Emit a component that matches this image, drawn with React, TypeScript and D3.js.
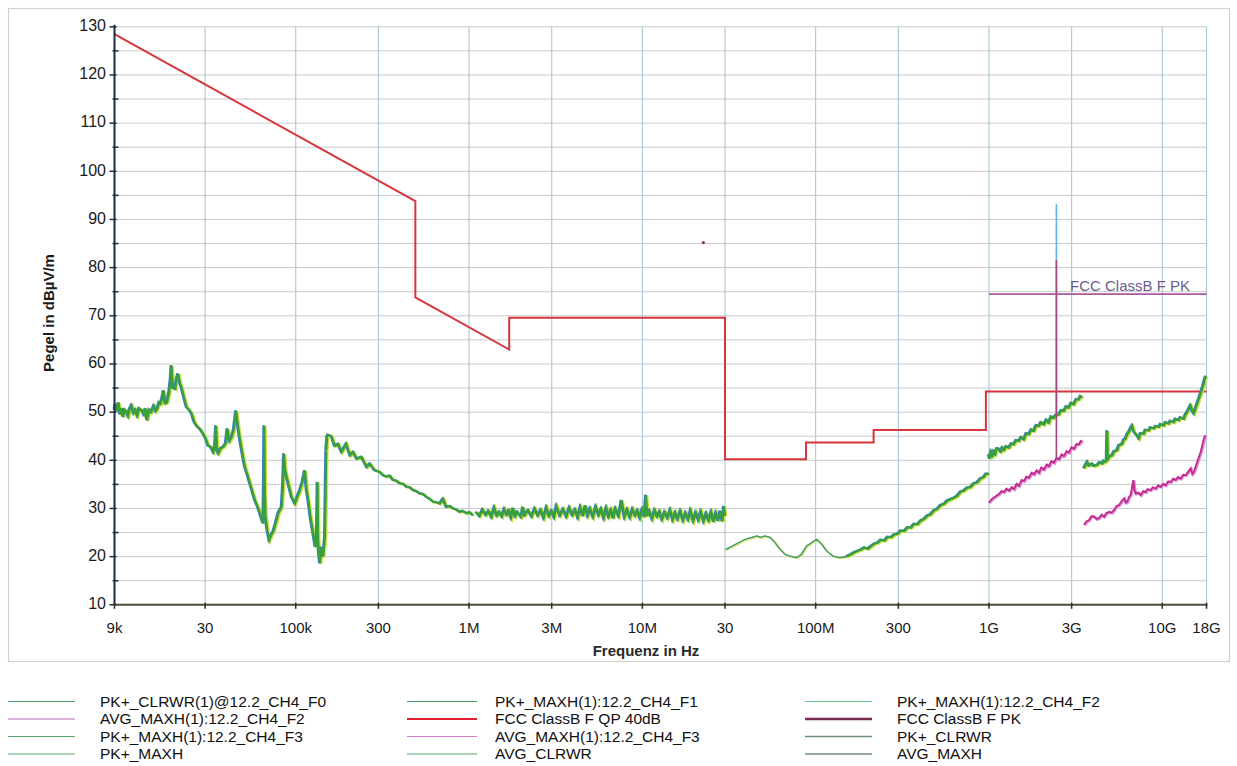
import React from "react";
import * as d3 from "d3";

type P = [number, number];

// ---------- axis ticks ----------
const yTickValues = [10, 20, 30, 40, 50, 60, 70, 80, 90, 100, 110, 120, 130];
const yGridValues = [15, 20, 25, 30, 35, 40, 45, 50, 55, 60, 65, 70, 75, 80, 85, 90, 95, 100, 105, 110, 115, 120, 125, 130];
const yMinorTicks = [15, 25, 35, 45, 55, 65, 75, 85, 95, 105, 115, 125];
const xTickFreqs = [9e3, 3e4, 1e5, 3e5, 1e6, 3e6, 1e7, 3e7, 1e8, 3e8, 1e9, 3e9, 1e10, 1.8e10];
const xTickLabels = ["9k", "30", "100k", "300", "1M", "3M", "10M", "30", "100M", "300", "1G", "3G", "10G", "18G"];

// ---------- limit lines ----------
const fccQP: P[] = [
  [9e3, 128.5], [490e3, 93.8], [490e3, 73.8], [1.705e6, 63.0], [1.705e6, 69.6], [30e6, 69.6],
  [30e6, 40.2], [88e6, 40.2], [88e6, 43.7], [216e6, 43.7], [216e6, 46.3], [960e6, 46.3], [960e6, 54.3], [18e9, 54.3],
];
const fccPK: P[] = [[1e9, 74.5], [18e9, 74.5]];

// ---------- measured traces ----------
// F0: 9 kHz - 150 kHz (kHz, dBµV/m)
const traceF0_kHz: P[] = [
  [9.0, 50.5], [9.1, 51.7], [9.3, 50.2], [9.5, 52], [9.7, 49.5], [9.9, 50.8], [10.1, 49], [10.3, 50.5], [10.6, 50], [10.8, 49.2],
  [11.0, 50.6], [11.3, 51.4], [11.6, 49.8], [11.9, 50.5], [12.2, 49.3], [12.5, 50.8], [13.0, 50.3], [13.3, 49.5], [13.6, 50.8], [13.9, 48.3],
  [14.3, 50.5], [14.7, 50], [15.2, 51.3], [15.6, 50.2], [15.9, 50.7], [16.3, 52], [16.6, 51.7], [17.0, 53], [17.3, 54.5], [17.7, 51.8],
  [18.1, 52], [18.6, 54], [19.0, 57], [19.2, 59.7], [19.6, 55], [20.2, 54.8], [20.6, 57], [21.0, 58], [21.5, 56], [22.0, 55],
  [22.7, 53], [23.5, 51], [24.3, 50.5], [25.1, 49.7], [26.0, 48], [26.8, 47.2], [28.0, 46.5], [29.3, 45.5], [30.3, 44.5], [31.3, 43],
  [32.4, 42.8], [33.5, 41.7], [34.2, 43], [34.7, 47.2], [35.2, 42], [35.8, 41.4], [37.0, 42.5], [38.3, 42.8], [39.5, 43.5], [40.4, 46.6],
  [41.5, 44], [42.8, 44.8], [44.0, 46.5], [45.3, 50.3], [46.5, 47], [47.8, 44.1], [49.5, 41], [51.0, 38.6], [52.7, 37], [54.5, 35.2],
  [56.3, 33.5], [58.2, 31.7], [60.2, 30.5], [62.2, 29], [64.0, 27.5], [65.0, 26.9], [65.5, 35], [65.9, 47.2], [66.4, 33], [67.0, 28.3],
  [68.6, 25.5], [70.4, 23.4], [72.3, 24.5], [74.3, 25.2], [76.8, 27], [79.4, 29], [83.0, 30.3], [84.5, 35], [85.6, 41.4], [87.0, 38],
  [88.7, 36.6], [91.7, 34.5], [94.8, 32.4], [99.1, 31], [102.5, 32.5], [105.9, 33.8], [109.5, 35.5], [113.1, 37.9], [115.5, 34], [118.2, 31.7],
  [122, 28], [126.3, 24.8], [130, 22], [132.5, 25], [133.8, 35.5], [134.5, 24], [136, 21], [138, 18.6], [141.1, 22], [144, 20],
  [147.5, 24.1], [149, 35], [150, 42],
];

// F1: 150 kHz - 1 MHz (kHz)
const traceF1a_kHz: P[] = [
  [150, 42], [152, 45], [154, 45.3], [161, 45], [168, 43], [176, 43.4], [184, 41.7], [196, 43.4], [206, 41], [215, 41.7],
  [225, 40.3], [240, 40.7], [257, 38.6], [268, 39.3], [286, 37.9], [306, 37.6], [320, 36.9], [334, 36.6], [350, 36.8], [365, 35.9],
  [380, 35.8], [399, 35.2], [418, 35.1], [436, 34.5], [456, 34.4], [476, 33.8], [498, 33.6], [520, 33.1], [545, 33.0], [568, 32.4],
  [595, 32.0], [621, 31.4], [650, 31.3], [678, 31], [709, 32], [741, 30.3], [775, 30.5], [810, 30], [846, 29.8], [884, 29.3],
  [925, 29.5], [966, 29], [1010, 29.2], [1055, 28.6],
];
// F1: 1 MHz - 30 MHz (MHz)
const traceF1b_MHz: P[] = [
  [1.1, 29.3], [1.15, 28.4], [1.2, 29.8], [1.25, 28.6], [1.3, 29.5], [1.35, 28.2], [1.4, 30.2], [1.45, 28.5], [1.5, 29.3], [1.55, 28.3],
  [1.6, 29.9], [1.65, 28.7], [1.7, 29.6], [1.75, 28.1], [1.8, 30.1], [1.85, 28.4], [1.9, 29.3], [2.0, 28.2], [2.05, 30.3], [2.1, 28.6],
  [2.2, 29.6], [2.3, 28.3], [2.4, 30.0], [2.5, 28.5], [2.6, 29.7], [2.7, 28.0], [2.8, 30.2], [2.9, 28.4], [3.0, 29.5], [3.1, 28.2],
  [3.2, 30.5], [3.35, 28.5], [3.5, 29.9], [3.65, 28.3], [3.8, 30.2], [3.95, 28.6], [4.1, 29.8], [4.25, 28.1], [4.4, 30.3], [4.55, 28.4],
  [4.7, 30.6], [4.85, 28.5], [5.0, 30.0], [5.2, 28.2], [5.4, 30.4], [5.6, 28.6], [5.8, 29.9], [6.0, 28.0], [6.2, 30.1], [6.4, 28.3],
  [6.6, 29.7], [6.8, 27.9], [7.0, 30.0], [7.3, 28.4], [7.6, 31.7], [7.9, 28.2], [8.2, 29.8], [8.5, 28.1], [8.8, 29.9], [9.1, 28.5],
  [9.4, 29.6], [9.7, 28.0], [10.0, 29.8], [10.3, 28.2], [10.5, 32.8], [10.7, 28.4], [11.0, 29.5], [11.4, 27.8], [11.8, 29.7], [12.2, 28.3],
  [12.6, 29.4], [13.0, 27.7], [13.5, 29.3], [14.0, 28.0], [14.5, 29.7], [15.0, 27.6], [15.5, 29.2], [16.0, 27.8], [16.6, 29.5], [17.2, 27.5],
  [17.8, 29.1], [18.4, 27.7], [19.0, 29.6], [19.7, 27.4], [20.4, 29.2], [21.1, 27.6], [21.8, 29.4], [22.6, 27.3], [23.4, 29.0], [24.2, 27.5],
  [25.0, 29.3], [25.8, 27.2], [26.6, 29.1], [27.4, 27.4], [28.2, 29.5], [29.0, 27.3], [29.6, 30.5], [30.0, 28.5],
];

// F2: 30 MHz - 150 MHz (MHz), smooth
const traceF2a_MHz: P[] = [
  [30.3, 21.5], [33.1, 22.2], [36, 22.9], [39.3, 23.6], [43, 24], [45.9, 24.3], [48, 24], [51.1, 24.3], [54.6, 24], [58.4, 22.9],
  [62.4, 21.5], [66.6, 20.5], [71.2, 20.1], [77.7, 19.8], [83, 20.5], [88.7, 22.2], [94.9, 22.9], [101.4, 23.6], [108.4, 22.6], [115.8, 21.2],
  [126.5, 20.1], [137.9, 19.8], [150.6, 20],
];
// F2: 150 MHz - 1 GHz (MHz), noisy
const traceF2b_MHz: P[] = [
  [150.6, 20], [160.9, 20.5], [168, 20.9], [175.8, 21.2], [184, 21.5], [191.9, 21.9], [200, 21.6], [209.6, 22.2],
  [219, 22.7], [228.9, 22.9], [239, 23.5], [249.9, 23.3], [261, 24.1], [272.9, 24], [285, 24.6], [297.4, 24.7], [311, 25.4], [324.9, 25.3],
  [340, 26.1], [354.9, 26], [371, 26.8], [387.6, 26.7], [405, 27.5], [423.3, 27.8], [442, 28.5], [462.2, 28.8], [483, 29.6], [504.8, 29.9],
  [527, 30.7], [551.3, 30.9], [576, 31.6], [601.9, 31.9], [629, 32.2], [657.3, 32.6], [687, 33.5], [717.8, 33.7], [750, 34.3], [783.8, 34.4],
  [820, 35.2], [855.9, 35.4], [895, 36.2], [934.8, 36.5], [965, 37.2], [1000, 37.2],
];

// F3 peak: 1 GHz - 3.5 GHz (GHz)
const traceF3pkA_GHz: P[] = [
  [1.0, 41.2], [1.01, 40.3], [1.03, 41.8], [1.05, 41], [1.069, 41.9], [1.09, 41.3], [1.115, 42.5], [1.142, 42.4], [1.17, 41.8], [1.195, 42.6],
  [1.22, 42.1], [1.26, 42.9], [1.304, 42.6], [1.35, 43.5], [1.394, 43.3], [1.44, 44.2], [1.489, 44], [1.54, 44.8], [1.591, 44.3], [1.645, 45.6],
  [1.7, 45.4], [1.76, 46.4], [1.817, 46.1], [1.88, 47.3], [1.942, 47.1], [2.0, 47.9], [2.075, 47.4], [2.15, 48.4], [2.218, 47.8], [2.29, 49.1],
  [2.37, 48.8], [2.45, 49.5], [2.532, 49.5], [2.62, 50.4], [2.706, 50.2], [2.8, 51.2], [2.892, 50.9], [2.99, 51.9], [3.09, 51.6], [3.2, 52.7],
  [3.302, 52.6], [3.38, 53.3], [3.451, 53],
];
// F3 average: 1 GHz - 3.5 GHz (GHz)
const traceF3avA_GHz: P[] = [
  [1.0, 31.2], [1.035, 31.9], [1.069, 32.3], [1.1, 32.6], [1.142, 33], [1.18, 33.6], [1.22, 33.4], [1.26, 34.1], [1.304, 33.7], [1.35, 34.4],
  [1.394, 34], [1.44, 35.1], [1.489, 34.7], [1.54, 35.9], [1.591, 35.7], [1.645, 36.6], [1.7, 36.4], [1.76, 37.4], [1.817, 37.1], [1.88, 37.9],
  [1.942, 37.4], [2.0, 38.5], [2.075, 38.1], [2.15, 39.1], [2.218, 38.8], [2.29, 39.8], [2.37, 39.5], [2.45, 40.5], [2.532, 40.2], [2.62, 41.2],
  [2.706, 40.9], [2.8, 41.9], [2.892, 41.6], [2.99, 42.7], [3.09, 42.4], [3.2, 43.4], [3.302, 43.3], [3.38, 44], [3.451, 43.8],
];
// 2.45 GHz carrier
const carrierPk_GHz: P[] = [[2.449, 49.5], [2.45, 93.2], [2.451, 49.5]];
const carrierAv_GHz: P[] = [[2.449, 40.4], [2.45, 81.6], [2.451, 40.4]];

// F3 peak: 3.5 GHz - 18 GHz (GHz)
const traceF3pkB_GHz: P[] = [
  [3.535, 38.3], [3.62, 39.1], [3.696, 39.7], [3.78, 38.9], [3.95, 39.3], [4.037, 38.8], [4.219, 39], [4.36, 39.6], [4.509, 39.3], [4.61, 39.9],
  [4.712, 39.7], [4.78, 40], [4.819, 46.2], [4.85, 40.6], [4.884, 40.3], [5.0, 40.9], [5.149, 41], [5.264, 41.8], [5.502, 42.1], [5.626, 43.1],
  [5.881, 43.4], [6.012, 44.3], [6.147, 44.5], [6.284, 45.4], [6.424, 45.9], [6.568, 46.6], [6.715, 47.2], [6.85, 46], [7.021, 45.5], [7.18, 45.1],
  [7.339, 44.5], [7.503, 45.6], [7.843, 45.5], [8.015, 46.3], [8.379, 46.2], [8.567, 46.8], [8.954, 46.6], [9.155, 47.1], [9.567, 46.9], [9.781, 47.5],
  [10.22, 47.2], [10.45, 47.9], [10.93, 47.6], [11.17, 48.2], [11.67, 47.9], [11.93, 48.6], [12.48, 48.3], [12.75, 48.9], [13.33, 48.6], [13.63, 49.5],
  [13.94, 50], [14.57, 51.4], [14.9, 50.3], [15.22, 49.7], [15.91, 51.7], [16.64, 53.8], [17.23, 55.5], [17.62, 56.9], [17.9, 57.5],
];
// F3 average: 3.5 GHz - 18 GHz (GHz)
const traceF3avB_GHz: P[] = [
  [3.535, 26.6], [3.65, 27.3], [3.779, 27.6], [3.9, 28.4], [4.037, 28.3], [4.18, 27.8], [4.315, 28], [4.46, 28.7], [4.61, 28.3], [4.75, 29],
  [4.927, 29.3], [5.1, 29.1], [5.264, 29.7], [5.45, 30.5], [5.626, 30.7], [5.85, 31.6], [6.012, 32.1], [6.15, 31.2], [6.284, 31.4], [6.43, 32.4],
  [6.568, 32.8], [6.805, 35.9], [6.9, 33.9], [7.021, 33.1], [7.25, 33.3], [7.503, 32.8], [7.75, 33.6], [8.015, 33.4], [8.2, 34], [8.567, 33.8],
  [8.8, 34.4], [9.155, 34.1], [9.45, 34.8], [9.781, 34.5], [10.1, 35.1], [10.45, 34.8], [10.8, 35.6], [11.17, 35.5], [11.55, 36.2], [11.93, 35.9],
  [12.3, 36.5], [12.75, 36.2], [13.2, 37], [13.63, 36.9], [14.1, 37.6], [14.57, 38.3], [14.9, 37.2], [15.22, 37.6], [15.91, 39.7], [16.64, 41.7],
  [17.39, 44.5], [17.7, 45.2],
];
const strayMarker: P = [22.5e6, 85.2];

// ---------- legend ----------
const legendCol1 = ["PK+_CLRWR(1)@12.2_CH4_F0", "AVG_MAXH(1):12.2_CH4_F2", "PK+_MAXH(1):12.2_CH4_F3", "PK+_MAXH"];
const legendCol2 = ["PK+_MAXH(1):12.2_CH4_F1", "FCC ClassB F QP 40dB", "AVG_MAXH(1):12.2_CH4_F3", "AVG_CLRWR"];
const legendCol3 = ["PK+_MAXH(1):12.2_CH4_F2", "FCC ClassB F PK", "PK+_CLRWR", "AVG_MAXH"];
const legendColors1 = ["#4f9c62", "#b868b8", "#54a468", "#5aac70"];
const legendColors2 = ["#449458", "#e0202e", "#d47cc8", "#58a474"];
const legendColors3 = ["#6cc48a", "#7a2a52", "#6a8e76", "#728e7e"];
const legendWidths2 = [1.2, 2.2, 1.2, 1.2];
const legendWidths3 = [1.2, 2.4, 1.4, 1.4];

const scaleBy = (arr: P[], k: number): P[] => arr.map((d) => [d[0] * k, d[1]] as P);

export default function App() {
  const x = d3.scaleLog().domain([9e3, 1.8e10]).range([114.5, 1206.5]);
  const y = d3.scaleLinear().domain([10, 130]).range([604.8, 26.8]);
  const line = d3.line<P>().x((d) => x(d[0])).y((d) => y(d[1]));

  const greenTraces: P[][] = [
    scaleBy(traceF0_kHz, 1e3),
    scaleBy(traceF1a_kHz, 1e3),
    scaleBy(traceF1b_MHz, 1e6),
    scaleBy(traceF2b_MHz, 1e6),
    scaleBy(traceF3pkA_GHz, 1e9),
    scaleBy(traceF3pkB_GHz, 1e9),
  ];
  const f2a = scaleBy(traceF2a_MHz, 1e6);
  const magentaTraces: P[][] = [scaleBy(traceF3avA_GHz, 1e9), scaleBy(traceF3avB_GHz, 1e9)];

  const font = "Arial, 'Liberation Sans', sans-serif";
  const legendRowsY = [702.5, 720, 737.5, 755];

  const drawLegendCol = (labels: string[], colors: string[], widths: number[] | null, x0: number, x1: number, tx: number) =>
    labels.map((lab, i) => (
      <g key={lab + i}>
        <line x1={x0} x2={x1} y1={legendRowsY[i] - 1} y2={legendRowsY[i] - 1} stroke={colors[i]} strokeWidth={widths ? widths[i] : 1.2} />
        <text x={tx} y={legendRowsY[i]} dominantBaseline="middle" fontSize={15.5} fill="#111" fontFamily={font}>
          {lab}
        </text>
      </g>
    ));

  return (
    <div style={{ position: "absolute", left: 0, top: 0 }}>
      <svg width={1237} height={766} viewBox="0 0 1237 766" style={{ display: "block", background: "#fff" }}>
        <rect x={8.5} y={8.5} width={1221} height={653} fill="none" stroke="#d2d2cc" strokeWidth={1.2} />

        {/* horizontal grid */}
        {yGridValues.map((v) => (
          <line key={"h" + v} x1={x(9e3)} x2={x(1.8e10)} y1={y(v)} y2={y(v)} stroke="#c9c9c9" strokeWidth={1} />
        ))}
        {/* vertical grid */}
        {xTickFreqs.slice(1).map((f) => (
          <line key={"v" + f} x1={x(f)} x2={x(f)} y1={y(130)} y2={y(10)} stroke="#a9c7d8" strokeWidth={1.1} />
        ))}

        {/* limit lines */}
        <path d={line(fccQP) || ""} fill="none" stroke="#d8343c" strokeWidth={2} />
        <path d={line(fccPK) || ""} fill="none" stroke="#aa5aa2" strokeWidth={1.6} />
        <text x={1190} y={291} textAnchor="end" fontSize={15} fill="#6c5c8c" fontFamily={font}>
          FCC ClassB F PK
        </text>

        {/* F2 smooth part 30M-150M */}
        <path d={line(f2a) || ""} fill="none" stroke="#d6e46a" strokeWidth={2} transform="translate(0.7,0.6)" />
        <path d={line(f2a) || ""} fill="none" stroke="#4f8fc4" strokeWidth={0.9} transform="translate(-0.6,0)" />
        <path d={line(f2a) || ""} fill="none" stroke="#4a9e6a" strokeWidth={1.2} />

        {/* green traces */}
        {greenTraces.map((t, i) => (
          <g key={"g" + i}>
            <path d={line(t) || ""} fill="none" stroke="#cfe048" strokeWidth={2.6} transform="translate(1.1,0.7)" />
            <path d={line(t) || ""} fill="none" stroke="#3f7cc8" strokeWidth={2} transform="translate(-1,-0.3)" />
            <path d={line(t) || ""} fill="none" stroke="#37a03a" strokeWidth={2.2} />
          </g>
        ))}

        {/* magenta traces */}
        {magentaTraces.map((t, i) => (
          <g key={"m" + i}>
            <path d={line(t) || ""} fill="none" stroke="#e48ad4" strokeWidth={2.8} transform="translate(0.8,0.5)" />
            <path d={line(t) || ""} fill="none" stroke="#c02a8e" strokeWidth={1.8} />
          </g>
        ))}

        {/* 2.45 GHz carrier */}
        <path d={line(scaleBy(carrierPk_GHz, 1e9)) || ""} fill="none" stroke="#5ab6e4" strokeWidth={1.6} />
        <path d={line(scaleBy(carrierAv_GHz, 1e9)) || ""} fill="none" stroke="#a2467e" strokeWidth={1.6} />

        <circle cx={x(strayMarker[0])} cy={y(strayMarker[1])} r={1.6} fill="#8a3448" />

        {/* y axis */}
        <line x1={x(9e3)} x2={x(9e3)} y1={y(130) - 2} y2={y(10)} stroke="#1c2c48" strokeWidth={2} />
        {yTickValues.map((v) => (
          <g key={"yt" + v}>
            <line x1={x(9e3) - 5} x2={x(9e3) + 2} y1={y(v)} y2={y(v)} stroke="#1c2c48" strokeWidth={1.5} />
            <text x={106} y={y(v)} textAnchor="end" dominantBaseline="middle" fontSize={16} fill="#1a1a1a" fontFamily={font}>
              {v}
            </text>
          </g>
        ))}
        {yMinorTicks.map((v) => (
          <line key={"ym" + v} x1={x(9e3) - 2} x2={x(9e3) + 4} y1={y(v)} y2={y(v)} stroke="#1c2c48" strokeWidth={1.5} />
        ))}

        {/* x axis */}
        <line x1={x(9e3)} x2={x(1.8e10) + 1} y1={y(10)} y2={y(10)} stroke="#4e4e36" strokeWidth={2} />
        {xTickFreqs.map((f, i) => (
          <g key={"xt" + f}>
            <line x1={x(f)} x2={x(f)} y1={y(10) - 2} y2={y(10) + 4} stroke="#2a2a2a" strokeWidth={1.5} />
            <text x={x(f)} y={629} textAnchor="middle" dominantBaseline="middle" fontSize={15} fill="#1a1a1a" fontFamily={font}>
              {xTickLabels[i]}
            </text>
          </g>
        ))}

        {/* axis titles */}
        <text
          transform="translate(50,313) rotate(-90)"
          textAnchor="middle"
          dominantBaseline="middle"
          fontSize={15}
          fontWeight="bold"
          fill="#1a1a1a"
          fontFamily={font}
        >
          Pegel in dBµV/m
        </text>
        <text x={646} y={652} textAnchor="middle" dominantBaseline="middle" fontSize={15} fontWeight="bold" fill="#2a2a2a" fontFamily={font}>
          Frequenz in Hz
        </text>

        {/* legend */}
        {drawLegendCol(legendCol1, legendColors1, null, 8, 75, 100)}
        {drawLegendCol(legendCol2, legendColors2, legendWidths2, 407, 477, 495)}
        {drawLegendCol(legendCol3, legendColors3, legendWidths3, 805, 872, 897)}
      </svg>
    </div>
  );
}
